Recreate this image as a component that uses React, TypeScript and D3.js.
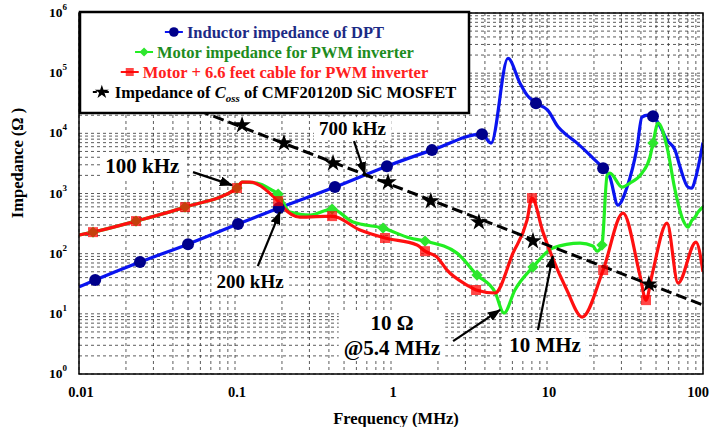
import React, { useEffect, useRef } from 'react';
import * as d3 from 'd3';

const width = 710;
const height = 427;
const margin = { top: 13, right: 7, bottom: 53, left: 79 };
const serif = "'Liberation Serif', 'Times New Roman', serif";

// Inductor impedance of DPT (blue)
const inductorFreq = [0.01, 0.0127, 0.0246, 0.05, 0.1045, 0.191, 0.437, 0.942, 1.83, 3.83, 4.38, 5.62, 6.71, 7.45, 8.5, 10.1, 11.8, 13.4, 15.6, 19.7, 22.9, 25.3, 28.5, 32.6, 37.8, 40.6, 44.4, 47.8, 54.6, 58.8, 66.2, 71.3, 80.2, 85, 88.9, 100];
const inductorZ = [28, 36.4, 72.5, 144, 310, 572, 1280, 2850, 5260, 9700, 6880, 177000, 68200, 43100, 31700, 24300, 12700, 9330, 6880, 3870, 2640, 1870, 641, 1280, 5900, 18600, 20100, 19300, 11300, 7710, 5260, 2750, 1280, 1230, 1670, 7000];
const inductorMarkFreq = [0.0127, 0.0246, 0.05, 0.1045, 0.191, 0.437, 0.942, 1.83, 3.83, 8.5, 22.9, 47.8];
const inductorMarkZ = [36.4, 72.5, 144, 310, 572, 1280, 2850, 5260, 9700, 31700, 2640, 19300];

// Motor impedance for PWM inverter (green)
const motorFreq = [0.01, 0.0123, 0.0232, 0.0478, 0.103, 0.111, 0.138, 0.1725, 0.189, 0.225, 0.303, 0.419, 0.571, 0.889, 1.324, 1.652, 2.649, 3.56, 4.64, 5.3, 6.23, 8.13, 10.9, 16.3, 19.7, 20.9, 22.5, 24.3, 25.3, 30.3, 34, 40.6, 45.7, 47.8, 51.5, 58.8, 66.2, 74.5, 80.2, 85, 88.9, 92.9, 100];
const motorZ = [204, 228, 348, 594, 1230, 1546, 1489, 1139, 977, 491, 438, 551, 335, 266, 182, 162, 102, 44.1, 23, 10.3, 24.9, 59.9, 124, 150, 134, 110, 139, 2022, 2183, 1277, 1489, 2183, 4024, 6880, 14760, 5900, 1139, 361, 277, 361, 405, 491, 594];
const motorMarkFreq = [0.0123, 0.0232, 0.0478, 0.103, 0.189, 0.419, 0.889, 1.652, 3.56, 8.13, 22.5, 47.8];
const motorMarkZ = [228, 348, 594, 1230, 977, 551, 266, 162, 44.1, 59.9, 139, 6880];

// Motor + 6.6 feet cable for PWM inverter (red)
const cableFreq = [0.01, 0.0123, 0.0232, 0.0478, 0.103, 0.111, 0.125, 0.1725, 0.189, 0.203, 0.261, 0.419, 0.633, 0.915, 1.468, 1.652, 1.972, 2.286, 3.07, 3.51, 4.64, 6.05, 7.45, 8.01, 9.42, 13.4, 16.8, 22.9, 30.7, 39.4, 43.1, 47.1, 58.8, 69.2, 90.2, 100];
const cableZ = [204, 228, 348, 594, 1230, 1546, 1546, 940, 748, 594, 405, 421, 247, 182, 139, 110, 87.8, 53.4, 30.1, 24.9, 22.2, 102, 361, 839, 228, 24.9, 8.85, 53.4, 472, 44.1, 16.9, 44.1, 322, 32.5, 156, 50];
const cableMarkFreq = [0.0123, 0.0232, 0.0478, 0.103, 0.189, 0.419, 0.915, 1.652, 3.51, 8.01, 22.9, 43.1];
const cableMarkZ = [228, 348, 594, 1230, 748, 421, 182, 110, 24.9, 839, 53.4, 16.9];

// Impedance of Coss (black dashed)
const cossFreq = [0.01, 100];
const cossZ = [140000, 14];
const cossMarkFreq = [0.111, 0.206, 0.425, 0.957, 1.8, 3.66, 8.13, 45];
const cossMarkZ = [13700, 6870, 3200, 1546, 748, 335, 162, 31];

const xTicks = [0.01, 0.1, 1, 10, 100];
const xTickLabels = ['0.01', '0.1', '1', '10', '100'];
const yExponents = [0, 1, 2, 3, 4, 5, 6];

type Pt = [number, number];
const zip = (f: number[], z: number[]): Pt[] => f.map((v, i) => [v, z[i]]);

type MarkerKind = 'circle' | 'diamond' | 'square' | 'star';

const drawMarker = (g: any, kind: MarkerKind, cx: number, cy: number, k = 1) => {
  if (kind === 'circle') {
    g.append('circle').attr('cx', cx).attr('cy', cy).attr('r', 6 * k).attr('fill', '#00008b');
  } else if (kind === 'diamond') {
    g.append('path')
      .attr('d', d3.symbol(d3.symbolSquare, 64 * k * k)())
      .attr('transform', `translate(${cx},${cy}) rotate(45)`)
      .attr('fill', '#2ee62e');
  } else if (kind === 'square') {
    g.append('path')
      .attr('d', d3.symbol(d3.symbolSquare, 100 * k * k)())
      .attr('transform', `translate(${cx},${cy})`)
      .attr('fill', '#ff0000')
      .attr('opacity', 0.72);
  } else {
    g.append('path')
      .attr('d', d3.symbol(d3.symbolStar, 95 * k * k)())
      .attr('transform', `translate(${cx},${cy})`)
      .attr('fill', '#000');
  }
};

const notes = [
  { lines: ['100 kHz'], f: 0.0255, z: 2183, size: 21, from: [0.0538, 2267], to: [0.0957, 1380] },
  { lines: ['700 kHz'], f: 0.566, z: 9330, size: 19, from: [0.579, 7420], to: [0.681, 2100] },
  { lines: ['200 kHz'], f: 0.125, z: 26.8, size: 19, from: [0.14, 62.2], to: [0.194, 491] },
  { lines: ['10 Ω', '@5.4 MHz'], f: 1.015, z: 5.38, size: 21, from: [2.5, 3.53], to: [5.0, 11.6] },
  { lines: ['10 MHz'], f: 9.71, z: 2.32, size: 21, from: [8.75, 5.38], to: [10.9, 91.2] },
];

const draw = (node: SVGSVGElement) => {
  const svg = d3.select(node);
  svg.selectAll('*').remove();

  const x = d3.scaleLog().domain([0.01, 100]).range([margin.left, width - margin.right]);
  const y = d3.scaleLog().domain([1, 1e6]).range([height - margin.bottom, margin.top]);
  const [x0, x1] = x.range();
  const [y0, y1] = y.range();

  const defs = svg.append('defs');
  defs.append('clipPath').attr('id', 'plot-clip')
    .append('rect').attr('x', x0).attr('y', y1).attr('width', x1 - x0).attr('height', y0 - y1);
  defs.append('marker')
    .attr('id', 'arrow')
    .attr('markerUnits', 'userSpaceOnUse')
    .attr('markerWidth', 13).attr('markerHeight', 10)
    .attr('refX', 12).attr('refY', 5)
    .attr('orient', 'auto')
    .append('path').attr('d', 'M0,0L13,5L0,10Z').attr('fill', '#000');

  svg.append('rect').attr('width', width).attr('height', height).attr('fill', '#fff');

  // grid
  const grid = svg.append('g')
    .attr('stroke', '#000').attr('stroke-width', 0.8)
    .attr('stroke-dasharray', '3,3').attr('opacity', 0.8);
  grid.selectAll('.gx').data(x.ticks()).join('line').attr('class', 'gx')
    .attr('x1', (d) => x(d)).attr('x2', (d) => x(d)).attr('y1', y1).attr('y2', y0);
  grid.selectAll('.gy').data(y.ticks()).join('line').attr('class', 'gy')
    .attr('x1', x0).attr('x2', x1).attr('y1', (d) => y(d)).attr('y2', (d) => y(d));

  const noteBg = svg.append('g');
  const linesG = svg.append('g').attr('clip-path', 'url(#plot-clip)').attr('fill', 'none');
  const marks = svg.append('g');
  const frame = svg.append('g');
  const legend = svg.append('g');
  const noteG = svg.append('g');

  const line = d3.line<Pt>().x((d) => x(d[0])).y((d) => y(d[1])).curve(d3.curveMonotoneX);

  linesG.append('path').attr('d', line(zip(inductorFreq, inductorZ))).attr('stroke', '#0a14f0').attr('stroke-width', 3.2);
  linesG.append('path').attr('d', line(zip(motorFreq, motorZ))).attr('stroke', '#22ee22').attr('stroke-width', 3.2);
  linesG.append('path').attr('d', line(zip(cableFreq, cableZ))).attr('stroke', '#ff1010').attr('stroke-width', 3.2);
  linesG.append('path').attr('d', d3.line<Pt>().x((d) => x(d[0])).y((d) => y(d[1]))(zip(cossFreq, cossZ)))
    .attr('stroke', '#000').attr('stroke-width', 3).attr('stroke-dasharray', '11,5');

  zip(inductorMarkFreq, inductorMarkZ).forEach((d) => drawMarker(marks, 'circle', x(d[0]), y(d[1])));
  zip(motorMarkFreq, motorMarkZ).forEach((d) => drawMarker(marks, 'diamond', x(d[0]), y(d[1])));
  zip(cableMarkFreq, cableMarkZ).forEach((d) => drawMarker(marks, 'square', x(d[0]), y(d[1])));
  zip(cossMarkFreq, cossMarkZ).forEach((d) => drawMarker(marks, 'star', x(d[0]), y(d[1])));

  frame.append('rect').attr('x', x0).attr('y', y1).attr('width', x1 - x0).attr('height', y0 - y1)
    .attr('fill', 'none').attr('stroke', '#000').attr('stroke-width', 1.5);

  // axis labels
  xTicks.forEach((v, i) => {
    const t = svg.append('text').attr('x', x(v) + 2).attr('y', y0 + 23).attr('text-anchor', 'middle')
      .attr('font-family', serif).attr('font-weight', 'bold').attr('font-size', 14.5)
      .text(xTickLabels[i]);
    const bb = (t.node() as SVGTextElement).getBBox();
    if (bb.x + bb.width > width - 1) t.attr('text-anchor', 'end').attr('x', width - 1);
  });
  yExponents.forEach((e) => {
    const t = svg.append('text').attr('x', x0 - 12).attr('y', y(10 ** e) + 4).attr('text-anchor', 'end')
      .attr('font-family', serif).attr('font-weight', 'bold').attr('font-size', 13.5);
    t.append('tspan').text('10');
    t.append('tspan').attr('dy', -7).attr('font-size', 9).text(String(e));
  });
  svg.append('text').attr('x', 396).attr('y', 424).attr('text-anchor', 'middle')
    .attr('font-family', serif).attr('font-weight', 'bold').attr('font-size', 16.5)
    .text('Frequency (MHz)');
  svg.append('text').attr('transform', 'translate(23,163) rotate(-90)').attr('text-anchor', 'middle')
    .attr('font-family', serif).attr('font-weight', 'bold').attr('font-size', 16.5)
    .text('Impedance (Ω )');

  // legend
  legend.append('rect').attr('x', 80).attr('y', 12).attr('width', 389).attr('height', 101)
    .attr('fill', '#fff').attr('stroke', '#000').attr('stroke-width', 2.5);
  const rows: { kind: MarkerKind; stroke: string; color: string; dash?: string }[] = [
    { kind: 'circle', stroke: '#0a14f0', color: '#1c2a85' },
    { kind: 'diamond', stroke: '#22ee22', color: '#1e8c1e' },
    { kind: 'square', stroke: '#ff1010', color: '#ff2020' },
    { kind: 'star', stroke: '#000', color: '#000', dash: '4,2' },
  ];
  rows.forEach((r, i) => {
    const cy = 32 + i * 20;
    const g = legend.append('g');
    const t = g.append('text').attr('y', cy + 5.5).attr('font-family', serif)
      .attr('font-weight', 'bold').attr('font-size', 16.5).attr('fill', r.color);
    if (i === 0) t.text('Inductor impedance of DPT');
    if (i === 1) t.text('Motor impedance for PWM inverter');
    if (i === 2) t.text('Motor + 6.6 feet cable for PWM inverter');
    if (i === 3) {
      t.append('tspan').text('Impedance of ');
      t.append('tspan').attr('font-style', 'italic').text('C');
      t.append('tspan').attr('font-style', 'italic').attr('font-size', 11).attr('dy', 4).text('oss');
      t.append('tspan').attr('dy', -4).text(' of CMF20120D SiC MOSFET');
    }
    const tw = (t.node() as SVGTextElement).getComputedTextLength();
    const sx = 274.5 - (22 + tw) / 2;
    g.append('line').attr('x1', sx).attr('x2', sx + 18).attr('y1', cy).attr('y2', cy)
      .attr('stroke', r.stroke).attr('stroke-width', 2).attr('stroke-dasharray', r.dash || null);
    drawMarker(g, r.kind, sx + 9, cy, 0.8);
    t.attr('x', sx + 22);
  });

  // annotations
  notes.forEach((n) => {
    const cx = x(n.f);
    const by = y(n.z);
    const t = noteG.append('text').attr('font-family', serif).attr('font-weight', 'bold')
      .attr('font-size', n.size).attr('text-anchor', 'middle');
    n.lines.forEach((l, j) => {
      t.append('tspan').attr('x', cx).attr('y', by + j * (n.size + 4)).text(l);
    });
    const bb = (t.node() as SVGTextElement).getBBox();
    noteBg.append('rect').attr('x', bb.x - 5).attr('y', bb.y - 1).attr('width', bb.width + 10)
      .attr('height', bb.height + 2).attr('fill', '#fff');
    noteG.append('line')
      .attr('x1', x(n.from[0])).attr('y1', y(n.from[1]))
      .attr('x2', x(n.to[0])).attr('y2', y(n.to[1]))
      .attr('stroke', '#000').attr('stroke-width', 2.2).attr('marker-end', 'url(#arrow)');
  });
};

const App = () => {
  const ref = useRef<SVGSVGElement>(null);
  useEffect(() => {
    if (ref.current) draw(ref.current);
  }, []);
  return (
    <svg
      ref={ref}
      width={width}
      height={height}
      style={{ position: 'absolute', left: 0, top: 0, display: 'block' }}
    />
  );
};

export default App;
